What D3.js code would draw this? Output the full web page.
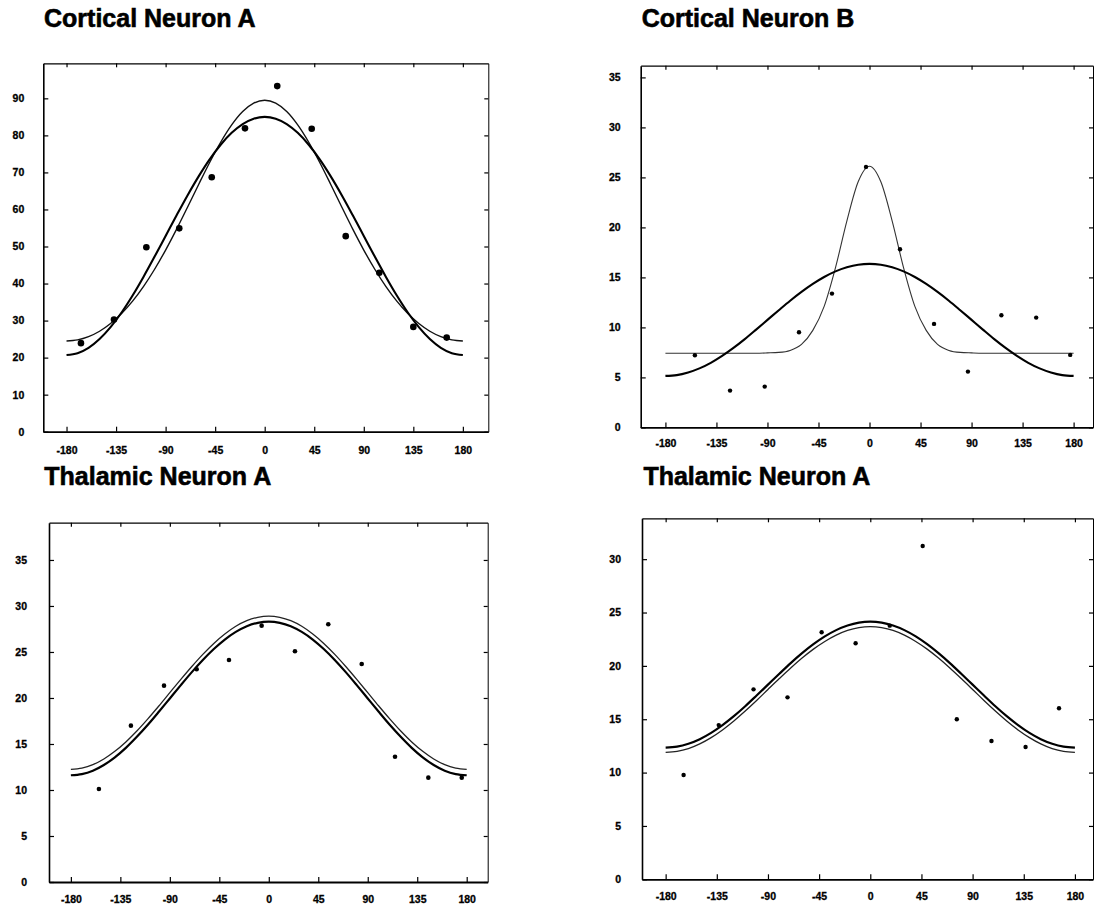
<!DOCTYPE html>
<html>
<head>
<meta charset="utf-8">
<script src="https://cdn.jsdelivr.net/npm/d3@7"></script>
<style>
  html, body { margin: 0; padding: 0; background: #fff; }
  svg { display: block; }
</style>
</head>
<body>
<svg id="chart" width="1094" height="909"></svg>
<script>
// ---------------- DATA ----------------
const titles = ["Cortical Neuron A", "Cortical Neuron B", "Thalamic Neuron A", "Thalamic Neuron A"];

const xTickValues = [-180, -135, -90, -45, 0, 45, 90, 135, 180];
const c1YTicks = [0, 10, 20, 30, 40, 50, 60, 70, 80, 90];
const c2YTicks = [0, 5, 10, 15, 20, 25, 30, 35];
const t1YTicks = [0, 5, 10, 15, 20, 25, 30, 35];
const t2YTicks = [0, 5, 10, 15, 20, 25, 30];

// measured responses (orientation in degrees, rate)
const c1Angles = [-166.9, -136.9, -107.5, -77.6, -48.1, -17.9, 11.4, 42.7, 73.6, 104.1, 135.0, 165.3];
const c1Rates  = [23.9, 30.3, 49.8, 54.9, 68.7, 81.9, 93.3, 81.8, 52.8, 42.9, 28.3, 25.4];

const c2Angles = [-154, -123, -92.4, -62.2, -33.1, -3.1, 26.9, 56.9, 86.8, 116.3, 147, 177];
const c2Rates  = [7.22, 3.68, 4.08, 9.52, 13.38, 26.05, 17.82, 10.35, 5.58, 11.22, 10.98, 7.25];

const t1Angles = [-154.5, -125.4, -95.3, -65.6, -36.2, -6.5, 23.8, 54.1, 84.5, 114.8, 145.1, 175.5];
const t1Rates  = [10.11, 16.99, 21.34, 23.12, 24.13, 27.86, 25.08, 28.01, 23.70, 13.62, 11.34, 11.34];

const t2Angles = [-164.2, -133.3, -102.7, -72.8, -42.8, -12.9, 17.1, 46.1, 76.1, 106.6, 136.6, 166.0];
const t2Rates  = [9.78, 14.45, 17.8, 17.05, 23.15, 22.12, 23.77, 31.24, 15.0, 12.96, 12.4, 16.03];

// fitted tuning curves, sampled every 10 degrees from -180 to 180
const fitAngles = [-180, -170, -160, -150, -140, -130, -120, -110, -100, -90, -80, -70, -60, -50, -40, -30, -20, -10, 0,
                   10, 20, 30, 40, 50, 60, 70, 80, 90, 100, 110, 120, 130, 140, 150, 160, 170, 180];

const c1FitBroad  = [20.7, 21.19, 22.64, 25.01, 28.22, 32.18, 36.77, 41.85, 47.27, 52.85, 58.43, 63.85, 68.93, 73.52, 77.48, 80.69, 83.06, 84.51, 85.0,
                     84.51, 83.06, 80.69, 77.48, 73.52, 68.93, 63.85, 58.43, 52.85, 47.27, 41.85, 36.77, 32.18, 28.22, 25.01, 22.64, 21.19, 20.7];
const c1FitNarrow = [24.5, 24.79, 25.66, 27.12, 29.2, 31.9, 35.24, 39.24, 43.86, 49.04, 54.69, 60.67, 66.75, 72.68, 78.15, 82.84, 86.45, 88.72, 89.5,
                     88.72, 86.45, 82.84, 78.15, 72.68, 66.75, 60.67, 54.69, 49.04, 43.86, 39.24, 35.24, 31.9, 29.2, 27.12, 25.66, 24.79, 24.5];

const c2FitBroad  = [5.15, 5.23, 5.49, 5.9, 6.46, 7.15, 7.95, 8.83, 9.78, 10.75, 11.72, 12.67, 13.55, 14.35, 15.04, 15.6, 16.01, 16.27, 16.35,
                     16.27, 16.01, 15.6, 15.04, 14.35, 13.55, 12.67, 11.72, 10.75, 9.78, 8.83, 7.95, 7.15, 6.46, 5.9, 5.49, 5.23, 5.15];
const c2FitNarrow = [7.42, 7.42, 7.42, 7.42, 7.42, 7.42, 7.42, 7.42, 7.42, 7.45, 7.5, 7.7, 8.3, 9.7, 12.1, 15.98, 20.63, 24.56, 26.12,
                     24.56, 20.63, 15.98, 12.1, 9.7, 8.3, 7.7, 7.5, 7.45, 7.42, 7.42, 7.42, 7.42, 7.42, 7.42, 7.42, 7.42, 7.42];

const t1FitUpper = [12.25, 12.38, 12.75, 13.37, 14.2, 15.22, 16.41, 17.73, 19.13, 20.58, 22.02, 23.42, 24.74, 25.93, 26.95, 27.79, 28.4, 28.77, 28.9,
                    28.77, 28.4, 27.79, 26.95, 25.93, 24.74, 23.42, 22.02, 20.58, 19.13, 17.73, 16.41, 15.22, 14.2, 13.37, 12.75, 12.38, 12.25];
const t1FitLower = [11.6, 11.73, 12.1, 12.72, 13.55, 14.58, 15.78, 17.09, 18.5, 19.95, 21.4, 22.81, 24.13, 25.32, 26.35, 27.18, 27.8, 28.17, 28.3,
                    28.17, 27.8, 27.18, 26.35, 25.32, 24.13, 22.81, 21.4, 19.95, 18.5, 17.09, 15.78, 14.58, 13.55, 12.72, 12.1, 11.73, 11.6];

const t2FitUpper = [12.34, 12.43, 12.7, 13.13, 13.72, 14.45, 15.29, 16.22, 17.22, 18.24, 19.26, 20.26, 21.19, 22.03, 22.76, 23.35, 23.78, 24.05, 24.14,
                    24.05, 23.78, 23.35, 22.76, 22.03, 21.19, 20.26, 19.26, 18.24, 17.22, 16.22, 15.29, 14.45, 13.72, 13.13, 12.7, 12.43, 12.34];
const t2FitLower = [11.9, 11.99, 12.25, 12.69, 13.28, 14.0, 14.84, 15.77, 16.76, 17.79, 18.81, 19.8, 20.73, 21.57, 22.29, 22.88, 23.32, 23.58, 23.67,
                    23.58, 23.32, 22.88, 22.29, 21.57, 20.73, 19.8, 18.81, 17.79, 16.76, 15.77, 14.84, 14.0, 13.28, 12.69, 12.25, 11.99, 11.9];

// ---------------- LAYOUT ----------------
const FONT = "'Liberation Sans', Arial, Helvetica, sans-serif";

const panels = [
  { title: titles[0], tx: 44, ty: 26.7,
    l: 43.3, r: 488.3, t: 63.3, b: 431.7, xDom: [-201.1, 203.1], yDom: [0, 99.46],
    yTicks: c1YTicks, xPad: 15, yPad: 19, dotR: 3.3,
    angles: c1Angles, rates: c1Rates,
    fits: [{ v: c1FitNarrow, w: 1.4, c: "#111" }, { v: c1FitBroad, w: 2.1, c: "#000" }] },
  { title: titles[1], tx: 641.7, ty: 26.7,
    l: 640.7, r: 1093, t: 65.7, b: 427.4, xDom: [-201.8, 197.1], yDom: [0, 36.17],
    yTicks: c2YTicks, xPad: 12, yPad: 20, dotR: 2.2,
    angles: c2Angles, rates: c2Rates,
    fits: [{ v: c2FitNarrow, w: 1.1, c: "#333" }, { v: c2FitBroad, w: 2.1, c: "#000" }] },
  { title: titles[2], tx: 44.3, ty: 485,
    l: 49, r: 487.7, t: 522.7, b: 882, xDom: [-199.9, 199.1], yDom: [0, 39.05],
    yTicks: t1YTicks, xPad: 14, yPad: 22, dotR: 2.3,
    angles: t1Angles, rates: t1Rates,
    fits: [{ v: t1FitUpper, w: 1.3, c: "#222" }, { v: t1FitLower, w: 2.2, c: "#000" }] },
  { title: titles[3], tx: 643.4, ty: 485,
    l: 642, r: 1093, t: 518.3, b: 879.3, xDom: [-200.8, 195.9], yDom: [0, 33.83],
    yTicks: t2YTicks, xPad: 13, yPad: 21, dotR: 2.2,
    angles: t2Angles, rates: t2Rates,
    fits: [{ v: t2FitLower, w: 1.3, c: "#222" }, { v: t2FitUpper, w: 2.2, c: "#000" }] }
];

// ---------------- DRAW ----------------
const svg = d3.select("#chart");
svg.append("rect").attr("width", 1094).attr("height", 909).attr("fill", "#fff");

function styleAxis(sel, domainWidth) {
  sel.attr("font-family", FONT).attr("font-size", 10.5).attr("font-weight", "bold");
  sel.select(".domain").attr("stroke", "#000").attr("stroke-width", domainWidth);
  sel.selectAll(".tick line").attr("stroke", "#000").attr("stroke-width", 1.2);
  sel.selectAll(".tick text").attr("fill", "#000")
    .attr("stroke", "#000").attr("stroke-width", 0.3);
}

panels.forEach(p => {
  const g = svg.append("g");
  const x = d3.scaleLinear().domain(p.xDom).range([p.l, p.r]);
  const y = d3.scaleLinear().domain(p.yDom).range([p.b, p.t]);

  // title
  g.append("text")
    .attr("x", p.tx).attr("y", p.ty)
    .attr("font-family", FONT).attr("font-weight", "bold").attr("font-size", 25)
    .attr("fill", "#000").attr("stroke", "#000").attr("stroke-width", 0.6)
    .text(p.title);

  // frame: top & right (thin), bottom & left (heavy)
  g.append("g").attr("transform", `translate(0,${p.t})`)
    .call(d3.axisTop(x).tickValues(xTickValues).tickSize(-4).tickSizeOuter(0).tickFormat(""))
    .call(s => styleAxis(s, 1.2));
  g.append("g").attr("transform", `translate(${p.r},0)`)
    .call(d3.axisRight(y).tickValues(p.yTicks).tickSize(-4).tickSizeOuter(0).tickFormat(""))
    .call(s => styleAxis(s, 1.0));
  g.append("g").attr("transform", `translate(0,${p.b})`)
    .call(d3.axisBottom(x).tickValues(xTickValues).tickSize(-5).tickSizeOuter(0)
      .tickPadding(p.xPad).tickFormat(d => String(d)))
    .call(s => styleAxis(s, 1.8));
  g.append("g").attr("transform", `translate(${p.l},0)`)
    .call(d3.axisLeft(y).tickValues(p.yTicks).tickSize(-5).tickSizeOuter(0)
      .tickPadding(p.yPad).tickFormat(d => String(d)))
    .call(s => styleAxis(s, 1.6));

  // fitted curves
  const line = d3.line()
    .x((d, i) => x(fitAngles[i]))
    .y(d => y(d))
    .curve(d3.curveMonotoneX);
  p.fits.forEach(f => {
    g.append("path")
      .datum(f.v)
      .attr("d", line)
      .attr("fill", "none")
      .attr("stroke", f.c)
      .attr("stroke-width", f.w)
      .attr("stroke-linejoin", "round");
  });

  // data points
  g.selectAll("circle.pt")
    .data(p.angles.map((a, i) => ({ a, r: p.rates[i] })))
    .join("circle")
    .attr("class", "pt")
    .attr("cx", d => x(d.a))
    .attr("cy", d => y(d.r))
    .attr("r", p.dotR)
    .attr("fill", "#000");
});
</script>
</body>
</html>
